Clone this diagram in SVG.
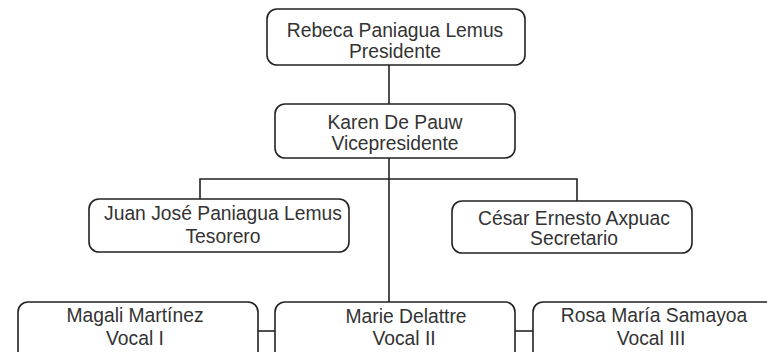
<svg xmlns="http://www.w3.org/2000/svg" width="767" height="352" viewBox="0 0 767 352">
  <style>
    .box { fill: #ffffff; stroke: #222222; stroke-width: 1.6; }
    .wire { fill: none; stroke: #222222; stroke-width: 1.6; }
    text { font-family: "Liberation Sans", Arial, sans-serif; font-size: 19.3px; fill: #333333; text-anchor: middle; }
  </style>
  <rect width="767" height="352" fill="#ffffff"/>

  <!-- connectors -->
  <g id="connectors">
    <line class="wire" x1="389" y1="65" x2="389" y2="104"/>
    <line class="wire" x1="389" y1="158" x2="389" y2="302"/>
    <polyline class="wire" points="200,199 200,179 577,179 577,201"/>
    <line class="wire" x1="258" y1="331" x2="275" y2="331"/>
    <line class="wire" x1="515" y1="331" x2="533" y2="331"/>
  </g>

  <g id="presidente">
    <rect class="box" x="267" y="9" width="258" height="56" rx="10"/>
    <text x="395" y="37">Rebeca Paniagua Lemus</text>
    <text x="395" y="58">Presidente</text>
  </g>

  <g id="vicepresidente">
    <rect class="box" x="275" y="104" width="240" height="54" rx="10"/>
    <text x="395" y="129">Karen De Pauw</text>
    <text x="395" y="150">Vicepresidente</text>
  </g>

  <g id="tesorero">
    <rect class="box" x="89" y="199" width="260" height="53" rx="10"/>
    <text x="223" y="220">Juan José Paniagua Lemus</text>
    <text x="223" y="243">Tesorero</text>
  </g>

  <g id="secretario">
    <rect class="box" x="452" y="201" width="240" height="52" rx="10"/>
    <text x="574" y="225">César Ernesto Axpuac</text>
    <text x="574" y="245">Secretario</text>
  </g>

  <g id="vocal1">
    <rect class="box" x="18" y="302" width="240" height="70" rx="10"/>
    <text x="135" y="322">Magali Martínez</text>
    <text x="135" y="345">Vocal I</text>
  </g>

  <g id="vocal2">
    <rect class="box" x="275" y="302" width="240" height="70" rx="10"/>
    <text x="406" y="323">Marie Delattre</text>
    <text x="404" y="345">Vocal II</text>
  </g>

  <g id="vocal3">
    <rect class="box" x="533" y="302" width="245" height="70" rx="10"/>
    <text x="654" y="322">Rosa María Samayoa</text>
    <text x="651" y="345">Vocal III</text>
  </g>
</svg>
